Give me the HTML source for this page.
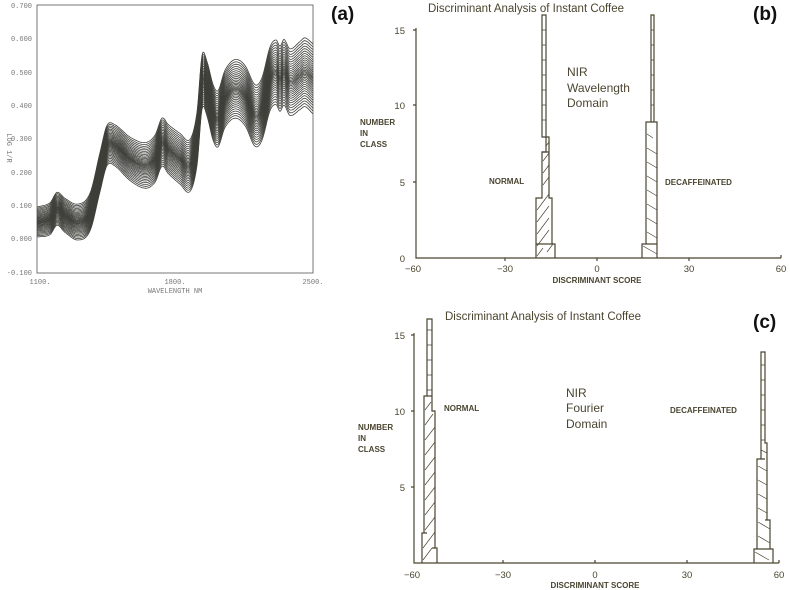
<!DOCTYPE html>
<html><head><meta charset="utf-8"><style>
html,body{margin:0;padding:0;background:#fff;}
body{width:790px;height:590px;overflow:hidden;position:relative;}
svg{position:absolute;left:0;top:0;}
</style></head><body>
<svg id="s" width="790" height="590" viewBox="0 0 790 590" font-family="Liberation Sans, sans-serif">
<g id="pa" fill="#777" font-size="7" font-family="Liberation Mono, monospace">
<rect x="37" y="5" width="276" height="268" fill="none" stroke="#555" stroke-width="0.8"/>
<text x="32" y="8" text-anchor="end">0.700</text>
<text x="32" y="41" text-anchor="end">0.600</text>
<text x="32" y="75" text-anchor="end">0.500</text>
<text x="32" y="108" text-anchor="end">0.400</text>
<text x="32" y="141" text-anchor="end">0.300</text>
<text x="32" y="175" text-anchor="end">0.200</text>
<text x="32" y="208" text-anchor="end">0.100</text>
<text x="32" y="241" text-anchor="end">0.000</text>
<text x="32" y="275" text-anchor="end">-0.100</text>
<text x="40" y="284" text-anchor="middle">1100.</text>
<text x="175" y="284" text-anchor="middle">1800.</text>
<text x="313" y="284" text-anchor="middle">2500.</text>
<text x="175" y="293" text-anchor="middle">WAVELENGTH NM</text>
<text x="0" y="0" transform="translate(7,148) rotate(90)" text-anchor="middle">LOG 1/R</text>
</g>
<g id="curves" fill="none" stroke="#3f3f3a" stroke-width="0.8"></g>

<g font-size="19" font-weight="bold" fill="#111">
<text x="331" y="20">(a)</text>
<text x="753" y="20">(b)</text>
<text x="753" y="328">(c)</text>
</g>

<g fill="#4a4530" stroke="none" font-size="9.5" font-weight="bold">
<text x="428" y="12" font-size="11.5" font-weight="normal">Discriminant Analysis of Instant Coffee</text>
<text x="405" y="34" text-anchor="end" font-weight="normal">15</text>
<text x="405" y="109" text-anchor="end" font-weight="normal">10</text>
<text x="405" y="186" text-anchor="end" font-weight="normal">5</text>
<text x="405" y="262" text-anchor="end" font-weight="normal">0</text>
<text x="360" y="125" font-size="8">NUMBER</text>
<text x="360" y="136" font-size="8">IN</text>
<text x="360" y="147" font-size="8">CLASS</text>
<text x="489" y="184" font-size="8">NORMAL</text>
<text x="665" y="185" font-size="8">DECAFFEINATED</text>
<text x="567" y="76" font-size="12" font-weight="normal">NIR</text>
<text x="567" y="92" font-size="12" font-weight="normal">Wavelength</text>
<text x="567" y="107" font-size="12" font-weight="normal">Domain</text>
<text x="413" y="272" text-anchor="middle" font-weight="normal">−60</text>
<text x="505" y="272" text-anchor="middle" font-weight="normal">−30</text>
<text x="597" y="272" text-anchor="middle" font-weight="normal">0</text>
<text x="689" y="272" text-anchor="middle" font-weight="normal">30</text>
<text x="781" y="272" text-anchor="middle" font-weight="normal">60</text>
<text x="597" y="283" text-anchor="middle" font-size="8">DISCRIMINANT  SCORE</text>
</g>
<g stroke="#4a4530" stroke-width="1.2" fill="none">
<path d="M416,28 V258 H781"/>
<path d="M416,30h-3M416,105h-3M416,182h-3M505,258v3M597,258v3M689,258v3M781,258v-3"/>
<path d="M536,258 V198 H542 V152 H546 V137 H542 V15 H546 V137 H549 V198 H552 V244 H555 V258"/>
<path d="M542,152 H549 M536,244 H552"/>
<path d="M642,258 V244 H646 V122 H651 V15 H654 V122 H657 V137 H657 V258 M646,244 H657 M651,122 H654"/>
</g>
<g stroke="#4a4530" stroke-width="0.7" fill="none">
<path d="M537,256l6,-8M537,246l12,-16M537,234l12,-16M537,222l12,-16M537,210l9,-12M546,198l3,-4M543,185l6,-8M543,173l6,-8M543,161l6,-8M546,146l3,-4M547,252l6,-8"/>
<path d="M542,30h4M542,45h4M542,60h4M542,75h4M542,90h4M542,105h4M542,120h4"/>
<path d="M643,246l14,8M647,232l10,6M647,218l10,6M647,204l10,6M647,190l10,6M647,176l10,6M647,162l10,6M647,148l10,6M647,134l6,4"/>
<path d="M651,30h3M651,45h3M651,60h3M651,75h3M651,90h3M651,105h3"/>
</g>

<g fill="#4a4530" stroke="none" font-size="9.5" font-weight="bold">
<text x="445" y="320" font-size="11.5" font-weight="normal">Discriminant Analysis of Instant Coffee</text>
<text x="405" y="339" text-anchor="end" font-weight="normal">15</text>
<text x="405" y="415" text-anchor="end" font-weight="normal">10</text>
<text x="405" y="491" text-anchor="end" font-weight="normal">5</text>
<text x="358" y="430" font-size="8">NUMBER</text>
<text x="358" y="441" font-size="8">IN</text>
<text x="358" y="452" font-size="8">CLASS</text>
<text x="444" y="411" font-size="8">NORMAL</text>
<text x="670" y="413" font-size="8">DECAFFEINATED</text>
<text x="566" y="397" font-size="12" font-weight="normal">NIR</text>
<text x="566" y="412" font-size="12" font-weight="normal">Fourier</text>
<text x="566" y="428" font-size="12" font-weight="normal">Domain</text>
<text x="412" y="578" text-anchor="middle" font-weight="normal">−60</text>
<text x="503" y="578" text-anchor="middle" font-weight="normal">−30</text>
<text x="595" y="578" text-anchor="middle" font-weight="normal">0</text>
<text x="687" y="578" text-anchor="middle" font-weight="normal">30</text>
<text x="779" y="578" text-anchor="middle" font-weight="normal">60</text>
<text x="595" y="588" text-anchor="middle" font-size="8">DISCRIMINANT  SCORE</text>
</g>
<g stroke="#4a4530" stroke-width="1.2" fill="none">
<path d="M414,333 V563 H779"/>
<path d="M414,335h-3M414,411h-3M414,487h-3M503,563v-3M595,563v-3M687,563v-3M779,563v-3"/>
<path d="M422,563 V533 H424 V396 H427 V319 H432 V411 H435 V548 H437 V563 M424,533 H427 M427,396 H432 M432,548 H435"/>
<path d="M754,563 V549 H757 V459 H761 V352 H765 V443 H767 V520 H770 V549 H773 V563 M757,549 H770 M761,459 H765 M765,520 H767"/>
</g>
<g stroke="#4a4530" stroke-width="0.7" fill="none">
<path d="M423,560l9,-12M423,548l12,-16M425,530l10,-13M425,515l10,-13M425,500l10,-13M425,485l10,-13M425,470l10,-13M425,455l10,-13M425,440l10,-13M425,425l8,-11M425,410l6,-8"/>
<path d="M427,330h5M427,345h5M427,360h5M427,375h5M427,390h5"/>
<path d="M755,552l14,8M758,536l12,7M758,522l12,7M758,508l9,5M758,494l9,5M758,480l9,5M758,466l9,5M761,450l6,3"/>
<path d="M761,365h4M761,380h4M761,395h4M761,410h4M761,425h4M761,440h4"/>
</g>
</svg>
<script>
(function(){
var P=[[37,.05],[50,.06],[57,.09],[65,.07],[78,.05],[90,.08],[100,.2],[107,.28],[115,.28],[130,.24],[145,.22],[155,.24],[162,.29],[168,.27],[180,.24],[190,.22],[197,.3],[202,.47],[207,.45],[213,.38],[218,.36],[225,.42],[235,.45],[245,.43],[255,.37],[262,.39],[270,.48],[276,.5],[280,.48],[284,.5],[290,.47],[300,.49],[305,.5],[313,.48]];
function mid(x){
 for(var i=0;i<P.length-1;i++){
  if(x<=P[i+1][0]){
   var p0=P[Math.max(i-1,0)],p1=P[i],p2=P[i+1],p3=P[Math.min(i+2,P.length-1)];
   var t=(x-p1[0])/(p2[0]-p1[0]);
   var m1=(p2[1]-p0[1])/(p2[0]-p0[0]||1)*(p2[0]-p1[0]);
   var m2=(p3[1]-p1[1])/(p3[0]-p1[0]||1)*(p2[0]-p1[0]);
   var t2=t*t,t3=t2*t;
   return (2*t3-3*t2+1)*p1[1]+(t3-2*t2+t)*m1+(-2*t3+3*t2)*p2[1]+(t3-t2)*m2;
  }}
 return P[P.length-1][1];}
function spr(x){return 0.045+0.06*(x-37)/276;}
var g=document.getElementById('curves'),h='';
var N=34;
for(var k=0;k<N;k++){
 var f=-1+2*k/(N-1); f=f*Math.abs(f)*0.4+f*0.6;
 var d='';
 for(var x=37;x<=313;x+=1){var v=mid(x)+f*spr(x);var y=272-(v+0.1)*333;d+=(d?'L':'M')+x.toFixed(1)+','+y.toFixed(1);}
 h+='<path d="'+d+'"/>';
}
g.innerHTML=h;
})();
</script>
</body></html>
